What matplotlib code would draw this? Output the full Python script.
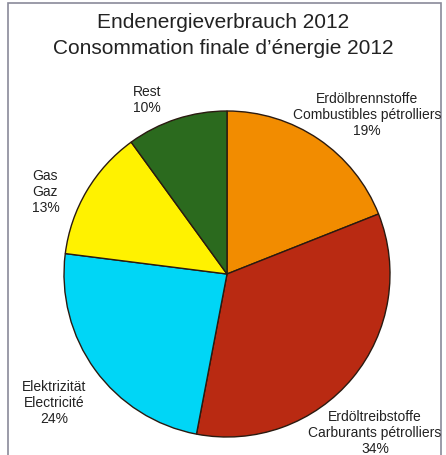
import matplotlib.pyplot as plt
from matplotlib.patches import Rectangle

plt.rcParams['font.family'] = ['Liberation Sans', 'DejaVu Sans']

labels = ["Erdölbrennstoffe\nCombustibles pétrolliers", "Erdöltreibstoffe\nCarburants pétrolliers",
          "Elektrizität\nElectricité", "Gas\nGaz", "Rest"]
shares = [19, 34, 24, 13, 10]
colors = ["#f28c00", "#b92a12", "#00d6f6", "#fff200", "#2b6a1e"]

W, H = 446, 456
fig = plt.figure(figsize=(W / 100, H / 100), dpi=100)
fig.patch.set_facecolor("white")

# frame around the chart (bottom edge cut off)
fig.patches.append(Rectangle((8 / W, -0.05), 433 / W, 1.05 - 4 / H, transform=fig.transFigure,
                             fill=False, edgecolor="#8a8a9a", linewidth=1.2))

cx, cy, r = 227, 275, 163
ax = fig.add_axes([(cx - r) / W, (H - cy - r) / H, 2 * r / W, 2 * r / H])
ax.pie(shares, colors=colors, startangle=90, counterclock=False,
       wedgeprops=dict(edgecolor="#2a1a10", linewidth=1.0))
ax.set_xlim(-1, 1)
ax.set_ylim(-1, 1)
ax.set_aspect("equal")
ax.axis("off")

fig.text(0.5, 1 - 22 / H, "Endenergieverbrauch 2012", ha="center", va="center",
         fontsize=15, color="#222222")
fig.text(0.5, 1 - 48 / H, "Consommation finale d\u2019énergie 2012", ha="center", va="center",
         fontsize=15, color="#222222")

# label positions in pixels (x, y, horizontal alignment)
pos = [(367, 115, "center"), (375, 433, "center"), (54, 403, "center"),
       (32, 192, "left"), (147, 100, "center")]
for lab, s, (x, y, ha) in zip(labels, shares, pos):
    fig.text(x / W, 1 - y / H, f"{lab}\n{s}%", ha=ha, va="center", multialignment=ha,
             fontsize=10, color="#222222", linespacing=1.2)

fig.savefig("out.png", dpi=100)
